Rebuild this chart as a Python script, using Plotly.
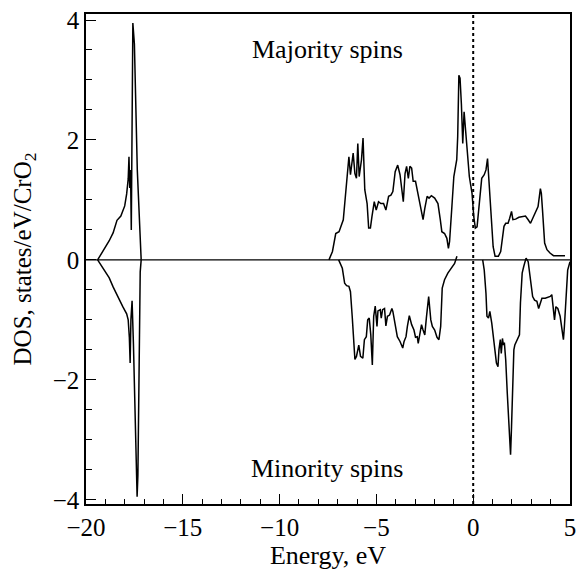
import plotly.graph_objects as go

# ---- Data ----
maj_low_E = [-19.4, -19.1, -18.8, -18.6, -18.4, -18.2, -18.0, -17.9, -17.82, -17.78, -17.74,
             -17.70, -17.66, -17.58, -17.5, -17.35, -17.2, -17.15]
maj_low_D = [0, 0.15, 0.32, 0.45, 0.66, 0.73, 0.9, 1.1, 1.35, 1.72, 1.2,
             1.5, 0.5, 3.95, 3.6, 1.5, 0.3, 0]

min_low_E = [-19.4, -19.1, -18.8, -18.6, -18.35, -18.1, -17.9, -17.82, -17.76, -17.72, -17.68,
             -17.62, -17.55, -17.45, -17.36, -17.32, -17.28, -17.24, -17.2, -17.15]
min_low_D = [0, -0.15, -0.3, -0.45, -0.63, -0.78, -0.9, -1.0, -1.3, -1.72, -1.0,
             -0.68, -1.4, -2.8, -3.95, -3.6, -2.0, -1.0, -0.2, 0]

maj_E = [-7.45, -7.39, -7.27, -7.10, -6.93, -6.71, -6.59, -6.47, -6.42, -6.34, -6.20, -6.11, -6.03,
         -5.96, -5.89, -5.77, -5.69, -5.60, -5.48, -5.40, -5.31, -5.23, -5.11, -5.01, -4.89, -4.77,
         -4.63, -4.51, -4.37, -4.25, -4.15, -4.03, -3.90, -3.78, -3.69, -3.61, -3.52, -3.44, -3.35,
         -3.27, -3.18, -3.10, -2.98, -2.84, -2.72, -2.59, -2.50, -2.38, -2.28, -2.16, -1.99, -1.82,
         -1.70, -1.62, -1.48, -1.36, -1.28, -1.22, -1.10, -1.00, -0.85, -0.80, -0.74, -0.68, -0.61,
         -0.54, -0.47, -0.41, -0.34, -0.20, -0.06, 0.03, 0.11, 0.20, 0.32, 0.44, 0.57, 0.66, 0.74,
         0.79, 0.91, 1.03, 1.13, 1.30, 1.42, 1.51, 1.59, 1.68, 1.80, 1.88, 1.98, 2.05, 2.19, 2.36,
         2.56, 2.70, 2.84, 2.96, 3.07, 3.21, 3.35, 3.47, 3.52, 3.58, 3.69, 3.81, 3.98, 4.15, 4.40,
         4.74]
maj_D = [0.0, 0.04, 0.14, 0.44, 0.47, 0.67, 1.11, 1.67, 1.72, 1.42, 1.78, 1.44, 1.36,
         1.94, 1.39, 1.67, 2.03, 1.17, 0.94, 0.53, 0.53, 0.72, 0.97, 0.83, 0.97, 0.94,
         0.94, 0.83, 1.06, 1.08, 1.14, 1.47, 1.58, 1.42, 1.14, 0.97, 1.44, 1.56, 1.36,
         1.56, 1.53, 1.31, 1.31, 1.06, 0.86, 0.67, 0.86, 1.06, 1.03, 1.07, 1.03, 0.94,
         0.67, 0.47, 0.44, 0.36, 0.19, 0.31, 0.89, 1.39, 1.67, 2.06, 3.08, 3.03, 2.6,
         1.94, 2.47, 2.28, 1.95, 1.39, 1.11, 0.72, 0.53, 0.55, 1.0, 1.36, 1.42, 1.5, 1.69,
         1.44, 0.83, 0.22, 0.06, 0.06, 0.14, 0.39, 0.56, 0.61, 0.61, 0.69, 0.81, 0.67, 0.68, 0.71,
         0.72, 0.73, 0.67, 0.61, 0.69, 0.78, 0.89, 1.19, 1.11, 0.83, 0.28, 0.17, 0.11, 0.07, 0.07,
         0.07]

min_E = [-6.95, -6.76, -6.64, -6.54, -6.42, -6.34, -6.25, -6.16, -6.11, -6.03, -5.91, -5.82, -5.70,
         -5.62, -5.52, -5.45, -5.37, -5.29, -5.21, -5.14, -5.06, -4.97, -4.92, -4.80, -4.75, -4.68,
         -4.58, -4.51, -4.43, -4.32, -4.20, -4.15, -4.03, -3.92, -3.78, -3.64, -3.57, -3.47, -3.40,
         -3.30, -3.18, -3.06, -2.98, -2.89, -2.84, -2.76, -2.67, -2.59, -2.50, -2.42, -2.30, -2.19,
         -2.11, -1.99, -1.87, -1.77, -1.68, -1.60, -1.48, -1.31, -1.13, -0.96, -0.84]
min_D = [0.0, -0.14, -0.39, -0.43, -0.44, -0.53, -0.94, -1.44, -1.66, -1.61, -1.42, -1.61, -1.64,
         -1.33, -1.28, -1.0, -0.97, -1.25, -1.75, -0.94, -0.77, -1.11, -0.85, -0.83, -0.97, -0.83,
         -0.81, -1.1, -0.94, -0.92, -0.81, -0.86, -1.11, -1.28, -1.36, -1.47, -1.36, -1.28, -1.11,
         -0.93, -1.08, -1.17, -1.29, -1.28, -1.39, -1.25, -1.08, -1.17, -1.25, -0.97, -0.61, -1.0,
         -1.11, -1.17, -1.29, -1.33, -1.11, -0.47, -0.33, -0.22, -0.14, -0.06, 0.06]

min_hi_E = [0.49, 0.57, 0.66, 0.71, 0.79, 0.86, 0.96, 1.05, 1.13, 1.20, 1.28, 1.33, 1.40, 1.45,
            1.51, 1.56, 1.61, 1.68, 1.76, 1.85, 1.93, 1.98, 2.05, 2.10, 2.15, 2.24, 2.32, 2.39,
            2.44, 2.53, 2.61, 2.73, 2.84, 2.92, 3.01, 3.07, 3.17, 3.29, 3.38, 3.46, 3.55, 3.72,
            3.98, 4.06, 4.15, 4.20, 4.27, 4.37, 4.49, 4.57, 4.66, 4.71, 4.80, 4.88, 5.0]
min_hi_D = [0.0, -0.17, -0.56, -0.94, -0.97, -0.86, -1.06, -1.28, -1.5, -1.72, -1.78, -1.5, -1.33, -1.56,
            -1.31, -1.42, -1.38, -1.67, -2.22, -2.72, -3.25, -2.78, -1.94, -1.5, -1.42, -1.36, -1.31, -1.25,
            -0.72, -0.22, -0.11, 0.03, -0.03, -0.22, -0.39, -0.61, -0.67, -0.69, -0.81, -0.72, -0.64, -0.64,
            -0.61, -0.58, -0.81, -1.0, -0.78, -0.81, -0.94, -1.11, -1.33, -1.11, -0.61, -0.17, -0.03]

x_ticks = [-20, -15, -10, -5, 0, 5]
y_ticks = [-4, -2, 0, 2, 4]

FONT = "Liberation Serif"
line = dict(color="black", width=1.5)

fig = go.Figure()
for xs, ys in [(maj_low_E, maj_low_D), (min_low_E, min_low_D), (maj_E, maj_D),
               (min_E, min_D), (min_hi_E, min_hi_D)]:
    fig.add_trace(go.Scatter(x=xs, y=ys, mode="lines", line=line, showlegend=False,
                             hoverinfo="skip"))

# Fermi level (dotted) and zero line
fig.add_shape(type="line", x0=0, x1=0, y0=0, y1=1, xref="x", yref="paper",
              line=dict(color="black", width=2, dash="dot"))
fig.add_shape(type="line", x0=0, x1=1, y0=0, y1=0, xref="paper", yref="y",
              line=dict(color="black", width=1.2))

fig.add_annotation(x=-7.55, y=3.5, text="Majority spins", showarrow=False,
                   font=dict(family=FONT, size=26, color="black"))
fig.add_annotation(x=-7.55, y=-3.47, text="Minority spins", showarrow=False,
                   font=dict(family=FONT, size=26, color="black"))

fig.update_xaxes(range=[-20, 5], tickvals=x_ticks, ticks="inside", ticklen=10, tickwidth=1,
                 tickcolor="black", showline=True, linecolor="black", linewidth=1.5, mirror=True,
                 showgrid=False, zeroline=False,
                 minor=dict(dtick=1, tick0=0, ticks="inside", ticklen=5, tickwidth=1, tickcolor="black",
                            showgrid=False),
                 tickfont=dict(family=FONT, size=25, color="black"),
                 title=dict(text="Energy, eV", font=dict(family=FONT, size=26, color="black"), standoff=4))
fig.update_yaxes(range=[-4.07, 4.1], tickvals=y_ticks, ticks="inside", ticklen=10, tickwidth=1,
                 tickcolor="black", showline=True, linecolor="black", linewidth=1.5, mirror=True,
                 showgrid=False, zeroline=False,
                 minor=dict(dtick=0.5, tick0=0, ticks="inside", ticklen=6, tickwidth=1, tickcolor="black",
                            showgrid=False),
                 tickfont=dict(family=FONT, size=25, color="black"),
                 title=dict(text="DOS, states/eV/CrO<sub>2</sub>",
                            font=dict(family=FONT, size=25, color="black"), standoff=14))

fig.update_layout(width=581, height=573, margin=dict(l=86, r=5, t=14, b=69),
                  plot_bgcolor="white", paper_bgcolor="white")

fig.write_html("out.html")
